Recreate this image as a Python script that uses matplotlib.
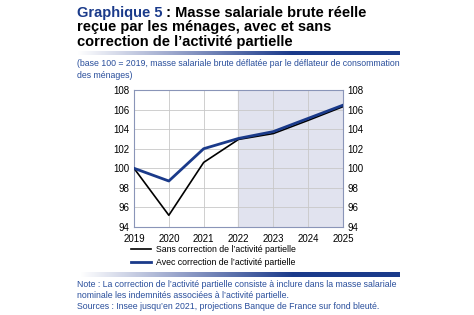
import numpy as np
import matplotlib.pyplot as plt
from matplotlib.colors import LinearSegmentedColormap

years = [2019, 2020, 2021, 2022, 2023, 2024, 2025]
sans_correction = [100, 95.2, 100.6, 102.95, 103.55, 104.9, 106.3]
avec_correction = [100, 98.7, 102.0, 103.05, 103.75, 105.1, 106.45]
yticks = [94, 96, 98, 100, 102, 104, 106, 108]

W, H = 474, 315
fig = plt.figure(figsize=(W / 100, H / 100), dpi=100)
plt.rcParams['font.family'] = ['Liberation Sans', 'DejaVu Sans']

blue = '#1a3a8a'
txt_blue = '#2a4f9c'

def px(x, y):
    return x / W, 1 - y / H

# title
t1 = fig.text(*px(77, 13), 'Graphique 5', color=blue, fontsize=10.5, fontweight='bold', va='center')
fig.canvas.draw()
bb = t1.get_window_extent()
fig.text(bb.x1 / W, 1 - 13 / H, ' : Masse salariale brute réelle', color='black', fontsize=10.5,
         fontweight='bold', va='center')
fig.text(*px(77, 27.5), 'reçue par les ménages, avec et sans', fontsize=10.5, fontweight='bold', va='center')
fig.text(*px(77, 42), 'correction de l\u2019activité partielle', fontsize=10.5, fontweight='bold', va='center')

grad = LinearSegmentedColormap.from_list('g', ['#ffffff', '#8f9cc6', blue, '#1a3a8a'])

def gradient_bar(x0, x1, y0, y1):
    ax = fig.add_axes([x0 / W, 1 - y1 / H, (x1 - x0) / W, (y1 - y0) / H])
    ax.imshow(np.linspace(0, 1, 256)[None, :], aspect='auto', cmap=grad)
    ax.axis('off')

gradient_bar(77, 400, 51, 55)

fig.text(*px(77, 64), '(base 100 = 2019, masse salariale brute déflatée par le déflateur de consommation',
         color=txt_blue, fontsize=6.3, va='center')
fig.text(*px(77, 75), 'des ménages)', color=txt_blue, fontsize=6.3, va='center')

# plot
ax = fig.add_axes([134 / W, 1 - 227 / H, (343 - 134) / W, (227 - 90) / H])
ax.axvspan(2022, 2025, color='#e1e3ef', zorder=0)
ax.plot(years, sans_correction, color='black', lw=1.2, zorder=3, label='Sans correction de l\u2019activité partielle')
ax.plot(years, avec_correction, color=blue, lw=2, zorder=4, label='Avec correction de l\u2019activité partielle')
ax.set_xlim(2019, 2025)
ax.set_ylim(94, 108)
ax.set_xticks(years)
ax.set_yticks(yticks)
ax.grid(True, color='#c8c8c8', lw=0.6)
ax.set_axisbelow(True)
for s in ax.spines.values():
    s.set_color('#8a95b8')
    s.set_linewidth(0.8)
ax.tick_params(length=0, labelsize=7, pad=3)
ax.tick_params(axis='x', pad=5)
ax2 = ax.twinx()
ax2.set_ylim(94, 108)
ax2.set_yticks(yticks)
ax2.tick_params(length=0, labelsize=7, pad=3)
for s in ax2.spines.values():
    s.set_visible(False)

h, l = ax.get_legend_handles_labels()
fig.legend(h, l, loc='upper left', bbox_to_anchor=px(131, 245.5), frameon=False,
           fontsize=6.3, handlelength=2.3, handletextpad=0.5, labelspacing=0.45,
           borderaxespad=0, borderpad=0)

gradient_bar(80, 400, 272, 277)

notes = ['Note : La correction de l\u2019activité partielle consiste à inclure dans la masse salariale',
         'nominale les indemnités associées à l\u2019activité partielle.',
         'Sources : Insee jusqu\u2019en 2021, projections Banque de France sur fond bleuté.']
for i, n in enumerate(notes):
    fig.text(*px(77, 284.5 + 11 * i), n, color=txt_blue, fontsize=6.3, va='center')

fig.savefig('out.png', dpi=100)
